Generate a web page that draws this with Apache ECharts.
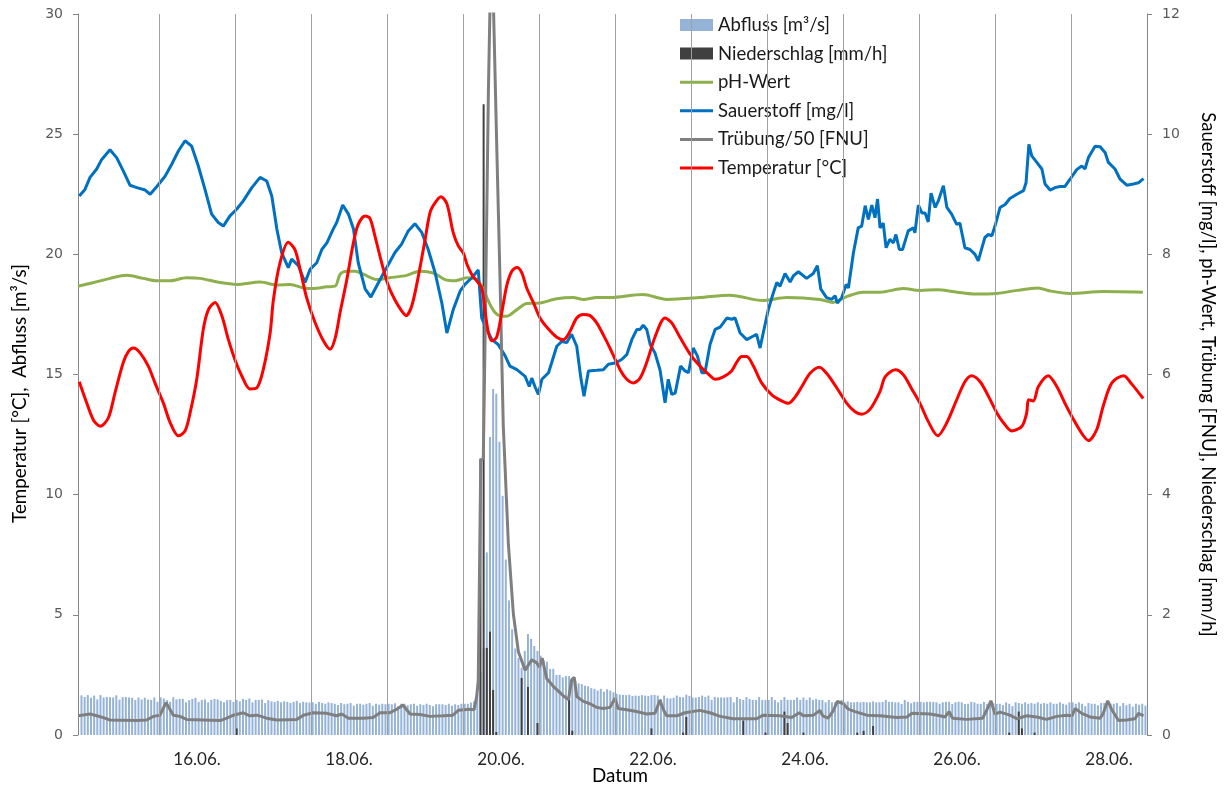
<!DOCTYPE html>
<html><head><meta charset="utf-8">
<script src="https://cdn.jsdelivr.net/npm/echarts@6/dist/echarts.min.js"></script>
<style>html,body{margin:0;padding:0;background:#fff}#c{width:1225px;height:789px}</style>
</head><body><div id="c"></div>
<script>
// time axis: hours since 15.06. 00:00
const X_MIN = -1.6, X_MAX = 336;
const dayBoundaries = [24, 48, 72, 96, 120, 144, 168, 192, 216, 240, 264, 288, 312];
const xLabelValues = [36, 84, 132, 180, 228, 276, 324];
const xLabels = ['16.06.', '18.06.', '20.06.', '22.06.', '24.06.', '26.06.', '28.06.'];

// Abfluss [m3/s], hourly bars starting at t = -0.5
const ABFLUSS_T0 = -0.5;
const abfluss = [
  1.65,
  1.58,1.66,1.55,1.64,1.48,1.66,1.56,1.58,1.57,1.56,1.65,1.47,1.57,1.58,1.56,1.55,1.46,1.56,1.48,1.55,1.47,1.46,1.56,1.38,
  1.57,1.52,1.45,1.38,1.57,1.48,1.50,1.50,1.36,1.45,1.50,1.55,1.38,1.46,1.48,1.36,1.46,1.50,1.48,1.42,1.36,1.45,1.46,1.38,
  1.46,1.40,1.50,1.46,1.52,1.36,1.46,1.46,1.48,1.33,1.45,1.40,1.38,1.42,1.36,1.40,1.38,1.33,1.38,1.42,1.33,1.38,1.36,1.35,
  1.36,1.30,1.38,1.33,1.30,1.36,1.33,1.30,1.25,1.33,1.28,1.30,1.33,1.22,1.30,1.30,1.26,1.30,1.33,1.22,1.30,1.26,1.30,1.28,
  1.30,1.28,1.32,1.20,1.30,1.30,1.24,1.28,1.30,1.22,1.28,1.25,1.30,1.25,1.20,1.28,1.28,1.28,1.25,1.30,1.22,1.28,1.25,1.30,
  1.30,1.30,1.35,1.40,1.70,2.60,3.60,7.60,12.4,14.4,14.2,12.2,9.95,7.30,5.60,4.40,3.60,3.20,2.80,3.50,4.20,4.00,3.70,3.50,
  3.30,3.10,3.05,2.75,2.75,2.50,2.50,2.40,2.45,2.45,2.35,2.25,2.15,2.12,2.05,2.03,1.95,1.92,1.85,1.92,1.80,1.90,1.85,1.78,
  1.72,1.68,1.67,1.66,1.68,1.62,1.64,1.63,1.66,1.64,1.62,1.66,1.67,1.64,1.50,1.64,1.53,1.52,1.55,1.64,1.58,1.57,1.68,1.63,
  1.56,1.56,1.58,1.64,1.58,1.64,1.46,1.58,1.56,1.56,1.56,1.57,1.58,1.36,1.58,1.50,1.46,1.58,1.50,1.46,1.46,1.58,1.46,1.46,
  1.46,1.58,1.46,1.36,1.46,1.58,1.46,1.46,1.46,1.56,1.46,1.56,1.46,1.56,1.46,1.50,1.46,1.46,1.36,1.46,1.36,1.36,1.36,1.46,
  1.36,1.40,1.36,1.36,1.38,1.36,1.38,1.36,1.36,1.40,1.36,1.36,1.38,1.46,1.38,1.38,1.36,1.36,1.29,1.46,1.38,1.32,1.38,1.38,
  1.38,1.36,1.38,1.38,1.38,1.36,1.30,1.36,1.38,1.38,1.29,1.36,1.38,1.36,1.29,1.30,1.38,1.36,1.30,1.30,1.38,1.30,1.38,1.32,
  1.30,1.30,1.24,1.36,1.30,1.20,1.36,1.33,1.30,1.36,1.30,1.33,1.30,1.36,1.30,1.33,1.30,1.36,1.30,1.30,1.36,1.30,1.26,1.36,
  1.36,1.30,1.36,1.30,1.20,1.33,1.30,1.30,1.24,1.33,1.33,1.20,1.30,1.30,1.33,1.20,1.33,1.24,1.30,1.18,1.30,1.26,1.30,1.22
];

// Niederschlag [mm/h] : [hour, value]
const niederschlag = [
  [48.5,0.11],[125.5,4.6],[126.5,10.5],[127.5,1.45],[128.5,1.72],[129.5,0.75],[130.5,0.05],
  [138.5,0.95],[140.5,0.8],[143.5,0.2],[153.5,0.58],[154.5,0.07],[179.5,0.11],[189.5,0.04],
  [190.5,0.3],[208.5,0.24],[215.5,0.04],[221.5,0.39],[222.5,0.2],[227.5,0.04],[244.5,0.04],
  [246.5,0.07],[249.5,0.15],[292.5,0.04],[295.5,0.39],[296.5,0.11],[300.5,0.04]
];

// pH-Wert : [hour, value]
const phWert = [
  [-1.6,7.47],[3.3,7.53],[8.5,7.6],[13.8,7.65],[19.0,7.6],[23.3,7.56],[27.5,7.56],[32.7,7.61],[36.9,7.6],
  [43.3,7.53],[48.5,7.5],[55.9,7.54],[61.2,7.49],[65.4,7.5],[69.6,7.44],[72.7,7.43],[77.0,7.46],[79.6,7.47],
  [81.2,7.67],[83.3,7.72],[85.9,7.72],[88.5,7.67],[92.7,7.58],[96.9,7.61],[102.2,7.65],[106.4,7.72],[110.6,7.69],
  [114.3,7.58],[117.5,7.56],[121.2,7.61],[124.3,7.58],[126.4,7.42],[128.0,7.22],[130.1,7.03],[132.2,6.97],
  [133.8,6.97],[137.0,7.08],[140.1,7.18],[144.3,7.19],[149.6,7.26],[154.8,7.28],[158.0,7.25],[162.2,7.28],
  [166.4,7.28],[176.8,7.33],[184.4,7.25],[194.8,7.28],[204.3,7.32],[214.7,7.23],[222.3,7.28],[232.7,7.25],
  [236.8,7.2],[241.3,7.3],[246.3,7.37],[251.7,7.37],[259.0,7.43],[264.3,7.4],[269.7,7.41],[276.0,7.37],
  [281.1,7.34],[288.6,7.35],[294.9,7.4],[301.6,7.44],[305.4,7.39],[311.7,7.35],[322.2,7.38],[334.7,7.37]
];

// Sauerstoff [mg/l] : [hour, value]
const sauerstoff = [
  [-1.2,8.97],[0.6,9.08],[2.2,9.28],[4.3,9.42],[5.9,9.58],[8.5,9.74],[10.6,9.61],[12.7,9.39],[14.8,9.15],
  [17.0,9.11],[19.6,9.07],[21.2,9.0],[23.3,9.13],[25.9,9.3],[28.0,9.5],[30.1,9.72],[32.2,9.89],[34.3,9.8],
  [36.4,9.47],[38.5,9.08],[40.6,8.67],[42.7,8.53],[44.3,8.47],[46.4,8.64],[48.5,8.75],[50.6,8.89],[53.3,9.11],
  [55.9,9.28],[58.0,9.22],[59.6,8.97],[61.2,8.42],[62.7,8.03],[64.8,7.78],[65.9,7.92],[68.0,7.81],[70.1,7.53],
  [71.7,7.75],[73.8,7.86],[75.4,8.08],[77.0,8.19],[79.0,8.42],[80.1,8.53],[82.0,8.82],[83.8,8.67],[85.4,8.42],
  [86.9,7.86],[89.1,7.42],[90.9,7.29],[93.3,7.53],[95.9,7.78],[98.5,8.03],[100.6,8.17],[102.7,8.39],[104.8,8.51],
  [107.0,8.36],[109.0,8.08],[111.2,7.69],[113.3,7.19],[114.9,6.69],[116.9,7.08],[119.1,7.39],[120.6,7.5],
  [122.8,7.61],[124.8,7.74],[125.9,6.94],[127.5,6.75],[129.1,6.58],[131.1,6.5],[133.3,6.31],[134.8,6.14],
  [137.0,6.08],[139.6,5.97],[140.9,5.8],[141.7,5.94],[142.7,5.8],[143.8,5.67],[144.9,5.92],[147.0,6.03],
  [149.6,6.47],[151.2,6.55],[152.7,6.53],[154.3,6.67],[155.9,6.47],[157.2,5.94],[158.2,5.64],[159.6,6.06],
  [162.2,6.07],[164.3,6.08],[165.9,6.17],[168.0,6.19],[170.1,6.25],[171.7,6.33],[173.3,6.58],[174.9,6.75],
  [175.9,6.75],[176.9,6.82],[178.0,6.75],[179.1,6.5],[180.6,6.36],[182.2,6.08],[183.8,5.53],[184.8,5.92],
  [185.9,5.67],[187.0,5.69],[188.7,6.14],[190.1,6.06],[191.2,6.03],[192.7,6.44],[194.0,6.31],[195.4,6.03],
  [196.4,6.03],[198.0,6.5],[199.6,6.75],[201.2,6.79],[203.3,6.94],[204.8,6.92],[205.9,6.94],[207.5,6.69],
  [209.6,6.58],[211.7,6.64],[212.7,6.67],[213.8,6.44],[214.8,6.69],[216.4,7.08],[218.0,7.36],[219.1,7.53],
  [220.1,7.47],[221.7,7.68],[223.3,7.54],[224.3,7.64],[225.9,7.71],[228.5,7.6],[230.6,7.68],[231.9,7.81],
  [233.0,7.42],[234.8,7.28],[236.4,7.25],[237.5,7.31],[238.2,7.19],[239.6,7.28],[241.0,7.5],[241.7,7.44],
  [243.3,8.03],[244.8,8.44],[245.9,8.47],[247.0,8.81],[248.0,8.58],[249.1,8.82],[250.1,8.61],[250.9,8.92],
  [251.7,8.44],[252.7,8.52],[253.6,8.11],[254.8,8.25],[255.9,8.19],[256.7,8.33],[257.8,8.08],[258.8,8.08],
  [260.6,8.39],[262.2,8.44],[262.7,8.36],[263.8,8.82],[264.9,8.69],[265.9,8.69],[266.9,8.54],[267.8,9.02],
  [269.1,8.78],[270.1,8.89],[271.7,9.14],[272.8,8.78],[274.3,8.67],[275.9,8.5],[276.9,8.52],[278.5,8.11],
  [280.1,8.08],[281.7,8.0],[282.7,7.89],[284.8,8.28],[285.9,8.33],[287.0,8.31],[288.0,8.47],[289.6,8.78],
  [291.2,8.83],[292.7,8.93],[294.9,9.0],[297.0,9.06],[297.8,9.19],[298.7,9.83],[299.6,9.64],[301.2,9.53],
  [302.8,9.42],[303.8,9.17],[305.4,9.07],[307.0,9.11],[308.5,9.13],[310.1,9.13],[311.7,9.25],[313.8,9.41],
  [315.4,9.47],[316.4,9.42],[317.5,9.61],[319.6,9.8],[321.2,9.79],[322.8,9.69],[323.8,9.53],[325.9,9.42],
  [327.5,9.25],[329.6,9.15],[331.7,9.17],[333.3,9.19],[334.9,9.26]
];

// Truebung/50 [FNU] : [hour, value]
const truebung = [
  [-1.5,0.32],[2.2,0.35],[4.3,0.32],[6.4,0.29],[8.5,0.25],[17.0,0.24],[20.1,0.25],[22.2,0.31],[24.3,0.33],
  [26.2,0.54],[28.5,0.33],[30.6,0.31],[32.7,0.26],[43.3,0.24],[45.4,0.28],[47.5,0.33],[50.6,0.37],[52.7,0.32],
  [54.9,0.33],[58.0,0.28],[61.2,0.25],[67.5,0.26],[69.6,0.33],[72.7,0.37],[77.0,0.36],[80.1,0.32],[81.7,0.35],
  [83.8,0.28],[88.5,0.28],[91.6,0.29],[93.8,0.37],[96.9,0.37],[99.1,0.43],[101.0,0.5],[103.3,0.35],[106.4,0.34],
  [109.6,0.31],[113.7,0.32],[116.8,0.33],[118.5,0.41],[122.2,0.43],[123.5,0.42],[124.3,0.64],[124.8,0.9],
  [125.6,4.57],[126.4,4.6],[127.0,6.74],[128.0,10.68],[129.0,13.5],[130.6,9.89],[131.7,7.53],[132.7,5.16],
  [134.3,3.19],[135.9,2.01],[137.5,1.38],[139.6,1.08],[141.7,1.25],[143.3,1.2],[144.1,1.13],[145.0,1.28],
  [146.4,0.94],[148.5,0.81],[151.7,0.65],[153.3,0.59],[154.3,0.92],[155.1,0.96],[155.9,0.64],[158.0,0.56],
  [160.1,0.52],[162.2,0.46],[164.3,0.44],[166.4,0.46],[168.0,0.61],[169.0,0.44],[171.7,0.42],[174.8,0.39],
  [178.0,0.35],[180.6,0.36],[182.2,0.58],[183.3,0.42],[184.3,0.32],[187.6,0.32],[190.1,0.37],[194.8,0.41],
  [198.0,0.37],[201.2,0.31],[205.3,0.27],[212.7,0.27],[214.8,0.33],[220.1,0.32],[223.8,0.29],[226.2,0.37],
  [227.5,0.32],[230.7,0.33],[232.7,0.41],[233.6,0.32],[235.3,0.28],[236.9,0.4],[238.2,0.56],[240.1,0.52],
  [241.7,0.43],[243.8,0.39],[247.5,0.33],[251.7,0.32],[257.0,0.29],[260.2,0.3],[261.7,0.36],[267.5,0.35],
  [270.6,0.32],[272.2,0.3],[273.5,0.39],[274.6,0.28],[279.0,0.26],[284.1,0.28],[285.9,0.47],[286.7,0.57],
  [288.0,0.35],[289.6,0.38],[292.7,0.33],[294.9,0.27],[298.0,0.32],[301.2,0.3],[304.3,0.26],[307.5,0.31],
  [310.7,0.33],[312.3,0.32],[313.3,0.44],[315.4,0.36],[318.0,0.3],[321.2,0.28],[322.2,0.36],[323.6,0.57],
  [324.9,0.42],[327.0,0.24],[329.6,0.25],[332.2,0.27],[333.3,0.36],[334.9,0.32]
];

// Temperatur [°C] : [hour, value]
const temperatur = [
  [-1.2,14.7],[1.2,13.8],[3.3,13.1],[5.4,12.85],[8.0,13.2],[10.1,14.25],[12.7,15.5],[14.3,15.95],[15.9,16.1],
  [18.0,15.9],[20.6,15.35],[22.7,14.65],[25.4,13.8],[27.5,13.0],[30.1,12.45],[32.2,12.65],[33.8,13.4],[35.9,14.8],
  [38.0,16.9],[39.6,17.7],[41.7,18.0],[43.8,17.45],[45.9,16.45],[48.0,15.6],[50.1,14.95],[52.7,14.4],[54.9,14.45],
  [56.9,15.2],[59.1,16.75],[60.1,18.1],[62.2,19.65],[64.8,20.5],[66.9,20.2],[68.5,19.4],[70.6,18.2],[73.3,17.15],
  [75.9,16.4],[78.0,16.05],[79.6,16.5],[81.2,17.6],[83.3,18.95],[85.4,20.5],[86.9,21.25],[89.1,21.6],[90.6,21.5],
  [92.2,20.75],[94.3,19.65],[96.4,18.7],[98.5,18.1],[100.6,17.65],[102.0,17.45],[103.8,17.85],[105.9,19.1],
  [108.0,20.6],[109.6,21.75],[111.2,22.15],[113.0,22.4],[114.9,22.1],[116.9,20.9],[118.5,20.35],[120.1,20.05],
  [121.2,19.6],[122.8,19.15],[124.3,18.9],[125.9,18.6],[127.0,17.6],[128.0,16.75],[129.1,16.4],[130.6,16.55],
  [132.2,17.55],[133.8,18.7],[135.4,19.3],[137.0,19.45],[138.5,19.25],[140.1,18.6],[142.2,18.0],[144.3,17.35],
  [146.9,16.9],[149.6,16.55],[151.7,16.45],[153.8,16.8],[155.9,17.35],[158.0,17.5],[160.1,17.45],[162.2,17.15],
  [164.3,16.65],[166.4,16.1],[169.6,15.2],[171.7,14.8],[173.8,14.65],[175.9,14.85],[178.0,15.5],[180.6,16.55],
  [183.8,17.35],[185.9,17.15],[188.5,16.55],[191.7,15.85],[194.8,15.35],[198.0,14.95],[199.6,14.8],[202.2,14.9],
  [204.8,15.15],[206.4,15.5],[208.0,15.75],[209.6,15.75],[211.7,15.35],[214.3,14.65],[217.5,14.15],[220.6,13.9],
  [222.7,13.8],[224.8,14.05],[227.0,14.5],[229.6,15.05],[232.5,15.3],[234.8,15.05],[238.0,14.45],[241.2,13.8],
  [243.8,13.45],[245.9,13.35],[248.5,13.55],[251.7,14.3],[253.3,14.9],[256.5,15.2],[259.0,15.0],[261.7,14.4],
  [264.3,13.8],[266.9,13.05],[269.9,12.45],[272.8,13.0],[275.9,13.95],[278.5,14.7],[280.6,14.95],[283.3,14.7],
  [285.9,14.1],[288.6,13.4],[290.6,13.0],[293.3,12.65],[296.5,12.85],[298.0,13.4],[298.6,13.95],[300.1,13.9],
  [301.7,14.5],[304.8,14.95],[307.5,14.5],[310.1,13.8],[312.7,13.15],[315.4,12.55],[317.5,12.25],[320.1,12.7],
  [322.2,13.7],[324.9,14.65],[328.6,14.95],[331.2,14.6],[334.8,14.0]
];

const NAMES = ['Abfluss [m³/s]', 'Niederschlag [mm/h]', 'pH-Wert', 'Sauerstoff [mg/l]', 'Trübung/50 [FNU]', 'Temperatur [°C]'];
const FONT = 'Lato, "Open Sans", sans-serif';
const AXIS_GRAY = '#868686';
const LINE_ICON = 'path://M0,0L0,0Z M0,12L0,12Z M0,4.5L33,4.5L33,7.5L0,7.5Z';

const chart = echarts.init(document.getElementById('c'));
chart.setOption({
  animation: false,
  backgroundColor: '#ffffff',
  grid: { left: 78, right: 78, top: 14, bottom: 54, outerBoundsMode: 'none', containLabel: false },
  legend: {
    orient: 'vertical', left: 675, top: 9,
    itemWidth: 33, itemHeight: 12, itemGap: 6.6,
    textStyle: { fontFamily: FONT, fontSize: 18.5, color: '#1a1a1a', lineHeight: 22 },
    data: [
      { name: NAMES[0], icon: 'rect' }, { name: NAMES[1], icon: 'rect' },
      { name: NAMES[2], icon: LINE_ICON }, { name: NAMES[3], icon: LINE_ICON },
      { name: NAMES[4], icon: LINE_ICON }, { name: NAMES[5], icon: LINE_ICON }
    ]
  },
  xAxis: {
    type: 'value', min: X_MIN, max: X_MAX,
    axisLine: { show: false }, axisTick: { show: false }, splitLine: { show: false },
    axisLabel: {
      customValues: xLabelValues,
      formatter: function (v) { const i = xLabelValues.indexOf(v); return i >= 0 ? xLabels[i] : ''; },
      fontFamily: FONT, fontSize: 17, color: '#262626', margin: 16
    },
    name: 'Datum', nameLocation: 'middle', nameGap: 31, nameMoveOverlap: false,
    nameTextStyle: { fontFamily: FONT, fontSize: 18.8, color: '#000', padding: [0, 0, 0, 15] }
  },
  yAxis: [
    {
      type: 'value', min: 0, max: 30, interval: 5, position: 'left',
      axisLine: { show: true, onZero: false, lineStyle: { color: AXIS_GRAY } },
      axisTick: { show: true, length: 5, lineStyle: { color: AXIS_GRAY } },
      axisLabel: { fontFamily: '"DejaVu Sans"', fontSize: 14, color: '#595959', margin: 15 },
      splitLine: { show: false },
      name: 'Temperatur [°C],  Abfluss [m³/s]', nameLocation: 'middle', nameRotate: 90, nameGap: 49,
      nameTextStyle: { fontFamily: FONT, fontSize: 18.8, color: '#000', padding: [0, 38, 0, 0] }
    },
    {
      type: 'value', min: 0, max: 12, interval: 2, position: 'right',
      axisLine: { show: true, onZero: false, lineStyle: { color: AXIS_GRAY } },
      axisTick: { show: true, length: 5, lineStyle: { color: AXIS_GRAY } },
      axisLabel: { fontFamily: '"DejaVu Sans"', fontSize: 14, color: '#595959', margin: 15 },
      splitLine: { show: false },
      name: 'Sauerstoff [mg/l], ph-Wert, Trübung [FNU], Niederschlag [mm/h]', nameLocation: 'middle', nameRotate: -90, nameGap: 51,
      nameTextStyle: { fontFamily: FONT, fontSize: 18.6, color: '#000' }
    }
  ],
  series: [
    {
      name: NAMES[0], type: 'bar', yAxisIndex: 0, barWidth: 2, barGap: '-100%',
      itemStyle: { color: '#95B3D7' },
      data: abfluss.map((v, i) => [ABFLUSS_T0 + i, v]),
      markLine: {
        silent: true, symbol: ['none', 'none'], label: { show: false },
        lineStyle: { color: '#A0A0A0', width: 1, type: 'solid' },
        emphasis: { disabled: true },
        data: dayBoundaries.map(d => ({ xAxis: d }))
      }
    },
    {
      name: NAMES[1], type: 'bar', yAxisIndex: 1, barWidth: 2, barGap: '-100%',
      itemStyle: { color: '#404040' }, data: niederschlag
    },
    {
      name: NAMES[2], type: 'line', yAxisIndex: 1, symbol: 'none', smooth: 0.3,
      lineStyle: { color: '#8DB04C', width: 3 }, itemStyle: { color: '#8DB04C' }, data: phWert
    },
    {
      name: NAMES[3], type: 'line', yAxisIndex: 1, symbol: 'none',
      lineStyle: { color: '#0070C0', width: 3 }, itemStyle: { color: '#0070C0' }, data: sauerstoff
    },
    {
      name: NAMES[4], type: 'line', yAxisIndex: 1, symbol: 'none',
      lineStyle: { color: '#7F7F7F', width: 3 }, itemStyle: { color: '#7F7F7F' }, data: truebung
    },
    {
      name: NAMES[5], type: 'line', yAxisIndex: 0, symbol: 'none', smooth: 0.3,
      lineStyle: { color: '#FF0000', width: 3 }, itemStyle: { color: '#FF0000' }, data: temperatur
    }
  ]
});
</script>
</body></html>
